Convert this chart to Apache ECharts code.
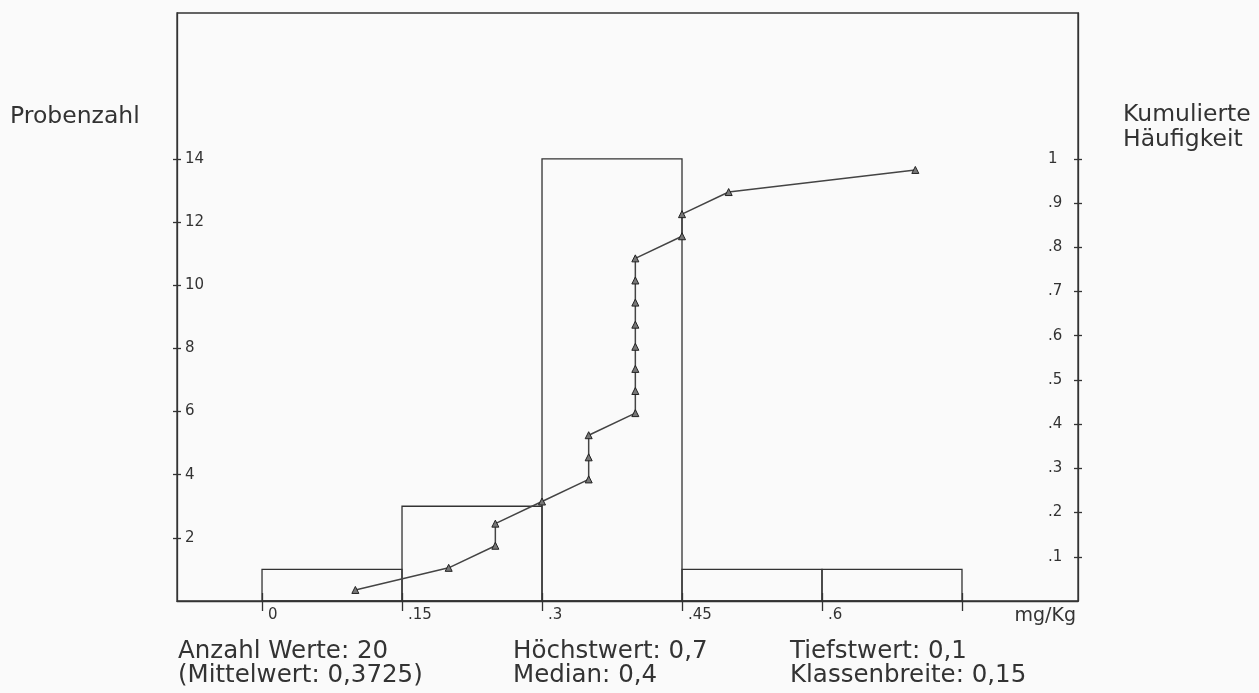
<!DOCTYPE html>
<html><head><meta charset="utf-8">
<script src="https://cdn.jsdelivr.net/npm/echarts@6/dist/echarts.min.js"></script>
<style>html,body{margin:0;padding:0;background:#fafafa}#c{width:1259px;height:693px}</style>
</head><body><div id="c"></div>
<script>
// ---- data ----
const binStarts = [0, 0.15, 0.3, 0.45, 0.6];
const binCounts = [1, 3, 14, 1, 1];
const binWidth = 0.15;
const cumValues = [0.1, 0.2, 0.25, 0.25, 0.3, 0.35, 0.35, 0.35, 0.4, 0.4, 0.4, 0.4, 0.4, 0.4, 0.4, 0.4, 0.45, 0.45, 0.5, 0.7];
const cumFreq = [0.025, 0.075, 0.125, 0.175, 0.225, 0.275, 0.325, 0.375, 0.425, 0.475, 0.525, 0.575, 0.625, 0.675, 0.725, 0.775, 0.825, 0.875, 0.925, 0.975];
const xTicks = [0, 0.15, 0.3, 0.45, 0.6, 0.75];
const xLabelValues = [0, 0.15, 0.3, 0.45, 0.6];
const leftTicks = [2, 4, 6, 8, 10, 12, 14];
const rightTicks = [0.1, 0.2, 0.3, 0.4, 0.5, 0.6, 0.7, 0.8, 0.9, 1];
const leftTitle = 'Probenzahl';
const rightTitle = ['Kumulierte', 'Häufigkeit'];
const unitLabel = 'mg/Kg';
const statCols = [
  ['Anzahl Werte: 20', '(Mittelwert: 0,3725)'],
  ['Höchstwert: 0,7', 'Median: 0,4'],
  ['Tiefstwert: 0,1', 'Klassenbreite: 0,15']
];

// ---- layout ----
const X0 = 177, X1 = 1078, YB = 601, YT = 13;
const xMin = -0.0911, xMax = 0.8743;
const leftMax = 18.62, rightMax = leftMax / 14;
const INK = '#333';
const FONT = 'DejaVu Sans';

function fmt(v) {
  if (v === 0) return '0';
  if (v === 1) return '1';
  return String(+v.toFixed(2)).replace(/^0\./, '.');
}
const tickLine = { color: INK, width: 1.3 };
const gridRect = { left: X0, right: 1259 - X1, top: YT, bottom: 693 - YB };

const chart = echarts.init(document.getElementById('c'), null, { renderer: 'canvas' });
const option = {
  backgroundColor: '#fafafa',
  animation: false,
  grid: [
    Object.assign({ show: true, borderColor: INK, borderWidth: 1.3, backgroundColor: 'transparent' }, gridRect),
    Object.assign({ show: false }, gridRect)
  ],
  xAxis: [
    { type: 'value', gridIndex: 0, min: xMin, max: xMax, position: 'bottom',
      axisLine: { show: true, onZero: false, lineStyle: { color: INK, width: 1.3 } },
      axisTick: { show: true, customValues: xTicks, length: 10, inside: false, lineStyle: tickLine },
      axisLabel: { show: true, customValues: xLabelValues, formatter: fmt, align: 'left', padding: [0, 0, 0, 6], margin: 7, fontSize: 15, color: INK, fontFamily: FONT },
      splitLine: { show: false } },
    { type: 'value', gridIndex: 1, min: xMin, max: xMax, position: 'bottom',
      axisLine: { show: false, onZero: false },
      axisTick: { show: true, customValues: xTicks, length: 8, inside: true, lineStyle: tickLine },
      axisLabel: { show: false }, splitLine: { show: false } }
  ],
  yAxis: [
    { type: 'value', gridIndex: 0, min: 0, max: leftMax, position: 'left',
      axisLine: { show: true, onZero: false, lineStyle: { color: INK, width: 1.3 } },
      axisTick: { show: true, customValues: leftTicks, length: 4, inside: false, lineStyle: tickLine },
      axisLabel: { show: true, inside: true, customValues: leftTicks, formatter: fmt, margin: 8, fontSize: 15, color: INK, fontFamily: FONT },
      splitLine: { show: false } },
    { type: 'value', gridIndex: 1, min: 0, max: leftMax, position: 'left',
      axisLine: { show: false, onZero: false },
      axisTick: { show: true, customValues: leftTicks, length: 4, inside: true, lineStyle: tickLine },
      axisLabel: { show: false }, splitLine: { show: false } },
    { type: 'value', gridIndex: 0, min: 0, max: rightMax, position: 'right',
      axisLine: { show: true, onZero: false, lineStyle: { color: INK, width: 1.3 } },
      axisTick: { show: true, customValues: rightTicks, length: 4, inside: false, lineStyle: tickLine },
      axisLabel: { show: true, inside: true, customValues: rightTicks, formatter: fmt, align: 'left', margin: 30, fontSize: 15, color: INK, fontFamily: FONT },
      splitLine: { show: false } },
    { type: 'value', gridIndex: 1, min: 0, max: rightMax, position: 'right',
      axisLine: { show: false, onZero: false },
      axisTick: { show: true, customValues: rightTicks, length: 4, inside: true, lineStyle: tickLine },
      axisLabel: { show: false }, splitLine: { show: false } }
  ],
  series: [
    { type: 'custom', xAxisIndex: 0, yAxisIndex: 0, z: 2,
      data: binStarts.map((s, i) => [s, s + binWidth, binCounts[i]]),
      encode: { x: [0, 1], y: 2 },
      renderItem: function (params, api) {
        const p0 = api.coord([api.value(0), api.value(2)]);
        const p1 = api.coord([api.value(1), 0]);
        return { type: 'rect', shape: { x: p0[0], y: p0[1], width: p1[0] - p0[0], height: p1[1] - p0[1] },
          style: { fill: 'none', stroke: INK, lineWidth: 1.3 } };
      } },
    { type: 'line', xAxisIndex: 0, yAxisIndex: 2, z: 3,
      data: cumValues.map((v, i) => [v, cumFreq[i]]),
      symbol: 'triangle', symbolSize: 7, showSymbol: true,
      lineStyle: { color: '#444', width: 1.5 },
      itemStyle: { color: '#777', borderColor: '#222', borderWidth: 1 } }
  ],
  graphic: [
    { type: 'text', style: { text: leftTitle, x: 10, y: 117, verticalAlign: 'middle', font: '23.5px "' + FONT + '"', fill: INK } },
    { type: 'text', style: { text: rightTitle[0], x: 1123, y: 115, verticalAlign: 'middle', font: '23.5px "' + FONT + '"', fill: INK } },
    { type: 'text', style: { text: rightTitle[1], x: 1123, y: 140, verticalAlign: 'middle', font: '23.5px "' + FONT + '"', fill: INK } },
    { type: 'text', style: { text: unitLabel, x: 1076, y: 616, align: 'right', verticalAlign: 'middle', font: '19px "' + FONT + '"', fill: INK } }
  ].concat(
    statCols.flatMap((col, ci) => col.map((t, ri) => ({
      type: 'text', style: { text: t, x: [178, 513, 790][ci], y: 652 + ri * 24, verticalAlign: 'middle', font: '24.5px "' + FONT + '"', fill: INK }
    })))
  )
};
chart.setOption(option);
</script>
</body></html>
